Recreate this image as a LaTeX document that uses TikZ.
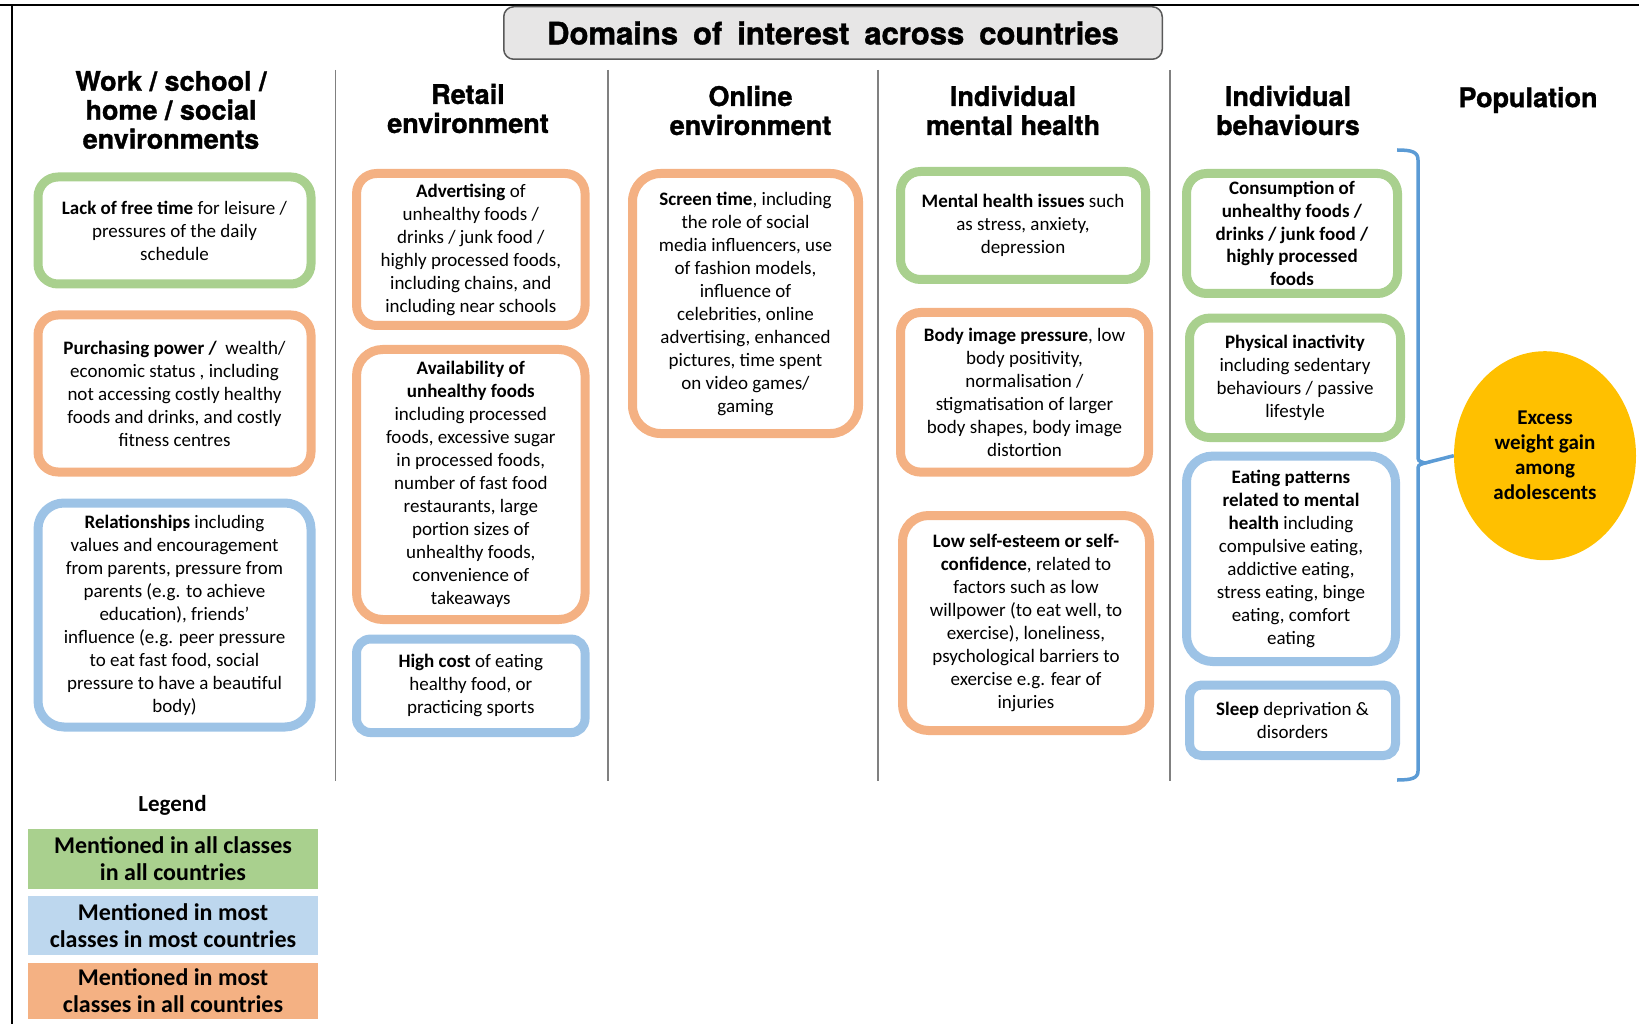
\documentclass[tikz,border=0pt]{standalone}
\usepackage{fontspec}
\setmainfont{Carlito}
\newfontfamily\arialfont{TeX Gyre Heros}[BoldFeatures={FakeBold=1.2}]
\usetikzlibrary{shapes.geometric}
\definecolor{boxgreen}{HTML}{A9D08E}
\definecolor{boxorange}{HTML}{F4B183}
\definecolor{boxblue}{HTML}{9DC3E6}
\definecolor{legblue}{HTML}{BDD7EE}
\definecolor{gold}{HTML}{FFC000}
\definecolor{bracecol}{HTML}{5B9BD5}
\definecolor{titlefill}{HTML}{E7E6E6}
\definecolor{divgray}{HTML}{808080}
\newcommand\widespaces{\spaceskip=15pt\relax}
\begin{document}
\begin{tikzpicture}[x=1pt,y=-1pt,
  cbox/.style={draw=#1, line width=9pt, rounded corners=20pt, fill=white,
    align=center, inner sep=0pt, font=\fontsize{19}{23}\selectfont},
  heading/.style={align=center, inner sep=0pt,
    font=\arialfont\bfseries\fontsize{27}{29}\selectfont},
  titlebox/.style={draw=black!65, line width=1.5pt, rounded corners=10pt,
    fill=titlefill, inner sep=0pt,
    font=\arialfont\bfseries\fontsize{31}{36}\selectfont},
  legbox/.style={fill=#1, minimum width=290, inner sep=0pt, align=center,
    font=\bfseries\fontsize{24}{27}\selectfont},
  divider/.style={draw=divgray, line width=1.5pt},
  frame/.style={draw=black, line width=2.5pt},
  bracestyle/.style={draw=bracecol, line width=3.5pt}
]
\useasboundingbox (0,0) rectangle (1639,1024);

% outer frame
\draw[frame] (0,5) -- (1639,5);
\draw[frame] (12,5) -- (12,1024);

% title
\node[titlebox, minimum width=658.5, minimum height=52.5] (title) at (833,33)
  {\widespaces Domains of interest across countries};

% column dividers
\foreach \xx in {335.5,608,878,1170}
  \draw[divider] (\xx,70) -- (\xx,781);

% column headings
\node[heading] (h1) at (171,110) {Work / school /\\home / social\\environments};
\node[heading] (h2) at (468,108.5) {Retail\\environment};
\node[heading] (h3) at (750.5,110.5) {Online\\environment};
\node[heading] (h4) at (1013,110.5) {Individual\\mental health};
\node[heading] (h5) at (1288,110.5) {Individual\\behaviours};
\node[heading] (h6) at (1528,100) {Population};

% work / school / home / social environments
\node[cbox=boxgreen, minimum width=273, minimum height=107] (a) at (174.5,230.5)
  {\textbf{Lack of free time} for leisure /\\pressures of the daily\\schedule};
\node[cbox=boxorange, minimum width=273, minimum height=157] (b) at (174.5,393.5)
  {\textbf{Purchasing power /}\ \ wealth/\\economic status , including\\not accessing costly healthy\\foods and drinks, and costly\\fitness centres};
\node[cbox=boxblue, rounded corners=26pt, minimum width=273, minimum height=224] (c) at (174.5,615)
  {\textbf{Relationships} including\\values and encouragement\\from parents, pressure from\\parents (e.g. to achieve\\education), friends’\\influence (e.g. peer pressure\\to eat fast food, social\\pressure to have a beautiful\\body)};

% retail environment
\node[cbox=boxorange, minimum width=228.5, minimum height=152] (d) at (470.8,249.5)
  {\textbf{Advertising} of\\unhealthy foods /\\drinks / junk food /\\highly processed foods,\\including chains, and\\including near schools};
\node[cbox=boxorange, rounded corners=26pt, minimum width=228.5, minimum height=270] (e) at (470.8,484.5)
  {\textbf{Availability of}\\\textbf{unhealthy foods}\\including processed\\foods, excessive sugar\\in processed foods,\\number of fast food\\restaurants, large\\portion sizes of\\unhealthy foods,\\convenience of\\takeaways};
\node[cbox=boxblue, rounded corners=14pt, minimum width=228.5, minimum height=93.5] (f) at (470.8,685.8)
  {\textbf{High cost} of eating\\healthy food, or\\practicing sports};

% online environment
\node[cbox=boxorange, rounded corners=28pt, minimum width=226, minimum height=260] (g) at (745.5,303.5)
  {\textbf{Screen time}, including\\the role of social\\media influencers, use\\of fashion models,\\influence of\\celebrities, online\\advertising, enhanced\\pictures, time spent\\on video games/\\gaming};

% individual mental health
\node[cbox=boxgreen, minimum width=245, minimum height=108] (hh) at (1023,225.5)
  {\textbf{Mental health issues} such\\as stress, anxiety,\\depression};
\node[cbox=boxorange, minimum width=248, minimum height=159.6] (i) at (1024.5,392.3)
  {\textbf{Body image pressure}, low\\body positivity,\\normalisation /\\stigmatisation of larger\\body shapes, body image\\distortion};
\node[cbox=boxorange, rounded corners=26pt, minimum width=247, minimum height=215] (j) at (1026,623)
  {\textbf{Low self-esteem or self-}\\\textbf{confidence}, related to\\factors such as low\\willpower (to eat well, to\\exercise), loneliness,\\psychological barriers to\\exercise e.g. fear of\\injuries};

% individual behaviours
\node[cbox=boxgreen, minimum width=211, minimum height=120,
  font=\fontsize{19}{22.7}\selectfont] (k) at (1292,233.5)
  {\textbf{Consumption of}\\\textbf{unhealthy foods /}\\\textbf{drinks / junk food /}\\\textbf{highly processed}\\\textbf{foods}};
\node[cbox=boxgreen, minimum width=211, minimum height=119.4] (l) at (1295,377.8)
  {\textbf{Physical inactivity}\\including sedentary\\behaviours / passive\\lifestyle};
\node[cbox=boxblue, rounded corners=26pt, minimum width=209, minimum height=205.4] (m) at (1291,558.8)
  {\textbf{Eating patterns}\\\textbf{related to mental}\\\textbf{health} including\\compulsive eating,\\addictive eating,\\stress eating, binge\\eating, comfort\\eating};
\node[cbox=boxblue, rounded corners=12pt, minimum width=206, minimum height=70.5] (n) at (1292.5,720.3)
  {\textbf{Sleep} deprivation \&\\disorders};

% population outcome
\node[ellipse, fill=gold, minimum width=182, minimum height=209, inner sep=0pt,
  align=center, font=\bfseries\fontsize{21}{25}\selectfont] (pop) at (1545,455.7)
  {Excess\\weight gain\\among\\adolescents};

% brace grouping the individual behaviours
\coordinate (tip) at (1425,463);
\draw[bracestyle] (1397,150) .. controls (1412,150) and (1418,152) .. (1418,160)
  -- (1418,455) .. controls (1418,461) .. (tip)
  .. controls (1418,465) .. (1418,471)
  -- (1418,771) .. controls (1418,778) and (1412,780) .. (1397,780);
\draw[bracestyle] (tip) -- (pop.west);

% legend
\node[font=\bfseries\fontsize{23}{27}\selectfont] (legend) at (172.5,805) {Legend};
\node[legbox=boxgreen, minimum height=60.5] (lg) at (173,859)
  {Mentioned in all classes\\in all countries};
\node[legbox=legblue, minimum height=59] (lb) at (173,925.5)
  {Mentioned in most\\classes in most countries};
\node[legbox=boxorange, minimum height=56] (lo) at (173,991)
  {Mentioned in most\\classes in all countries};
\end{tikzpicture}
\end{document}
